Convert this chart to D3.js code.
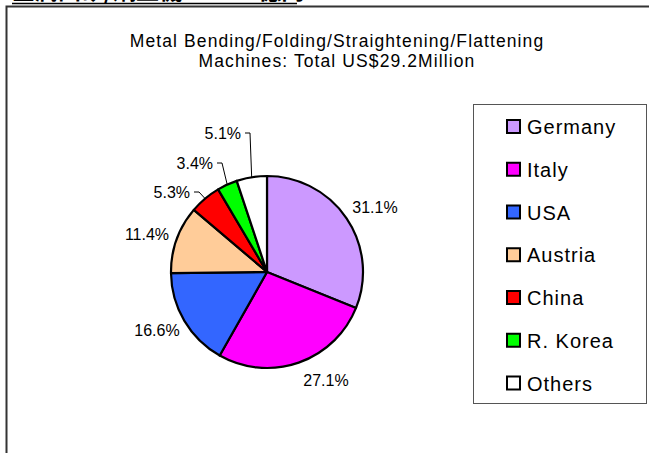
<!DOCTYPE html>
<html><head><meta charset="utf-8">
<script src="https://cdn.jsdelivr.net/npm/d3@7"></script>
<style>
body{margin:0;background:#fff;}
svg{display:block;}
text{font-family:"Liberation Sans",Arial,sans-serif;fill:#000;}
</style></head>
<body>
<script>
const categories = ["Germany","Italy","USA","Austria","China","R. Korea","Others"];
const values = [31.1,27.1,16.6,11.4,5.3,3.4,5.1];
const colors = ["#CC99FF","#FF00FF","#3366FF","#FFCC99","#FF0000","#00FF00","#FFFFFF"];
const titleLines = ["Metal Bending/Folding/Straightening/Flattening","Machines: Total US$29.2Million"];
const headerText = "金属曲げ/矯正機：  29.2億円";

const W = 649, H = 453;
const svg = d3.select("body").append("svg").attr("width",W).attr("height",H);

// header (mostly cut off at the top)
svg.append("text").attr("x",12).attr("y",-1)
  .style("font-family","'Noto Sans CJK JP',sans-serif").style("font-size","23px").style("font-weight","bold")
  .text(headerText);
svg.append("line").attr("x1",12).attr("x2",297).attr("y1",3.5).attr("y2",3.5)
  .attr("stroke","#000").attr("stroke-width",1.5);

// frame
svg.append("path").attr("d",`M6.5,${H} V6.5 H${W}`).attr("fill","none").attr("stroke","#333").attr("stroke-width",2);

// title
const title = svg.append("text").attr("text-anchor","middle").style("font-size","17.5px").style("letter-spacing","1.1px");
titleLines.forEach((t,i)=>title.append("tspan").attr("x",337).attr("y",47+i*20).text(t));

// pie
const cx = 267, cy = 272, r = 96;
const pie = d3.pie().value(d=>d).sort(null)(values);
const arc = d3.arc().innerRadius(0).outerRadius(r);
const g = svg.append("g").attr("transform",`translate(${cx},${cy})`);
g.selectAll("path").data(pie).join("path")
  .attr("d",arc).attr("fill",(d,i)=>colors[i])
  .attr("stroke","#000").attr("stroke-width",2.2).attr("stroke-linejoin","round");

// labels
const fmt = v => v.toFixed(1) + "%";
const labelPos = [
  {x:375-cx, y:207-cy, a:"middle"},
  {x:326-cx, y:380-cy, a:"middle"},
  {x:157-cx, y:330-cy, a:"middle"},
  {x:147-cx, y:234-cy, a:"middle"},
  {x:190-cx, y:192-cy, a:"end", leader:true},
  {x:213-cx, y:163-cy, a:"end", leader:true},
  {x:241-cx, y:133-cy, a:"end", leader:true}
];
pie.forEach((d,i)=>{
  const p = labelPos[i];
  g.append("text").attr("x",p.x).attr("y",p.y).attr("dy","0.36em")
    .attr("text-anchor",p.a).style("font-size","16px").text(fmt(values[i]));
  if(p.leader){
    const mid = (d.startAngle+d.endAngle)/2;
    const ex = Math.sin(mid)*r, ey = -Math.cos(mid)*r;
    const hx = p.x + 4;
    const kx = hx + 5;
    g.append("path").attr("d",`M${hx},${p.y} H${kx} L${ex},${ey}`)
      .attr("fill","none").attr("stroke","#000").attr("stroke-width",1);
  }
});

// legend
const lg = svg.append("g");
lg.append("rect").attr("x",473.5).attr("y",104.5).attr("width",173).attr("height",299)
  .attr("fill","#fff").attr("stroke","#555").attr("stroke-width",1);
const ly = d3.scalePoint().domain(categories).range([127,383.5]);
categories.forEach((c,i)=>{
  lg.append("rect").attr("x",507).attr("y",ly(c)-7).attr("width",13).attr("height",13)
    .attr("fill",colors[i]).attr("stroke","#000").attr("stroke-width",2);
  lg.append("text").attr("x",527).attr("y",ly(c)).attr("dy","0.36em")
    .style("font-size","20px").style("letter-spacing","1px").text(c);
});
</script>
</body></html>
